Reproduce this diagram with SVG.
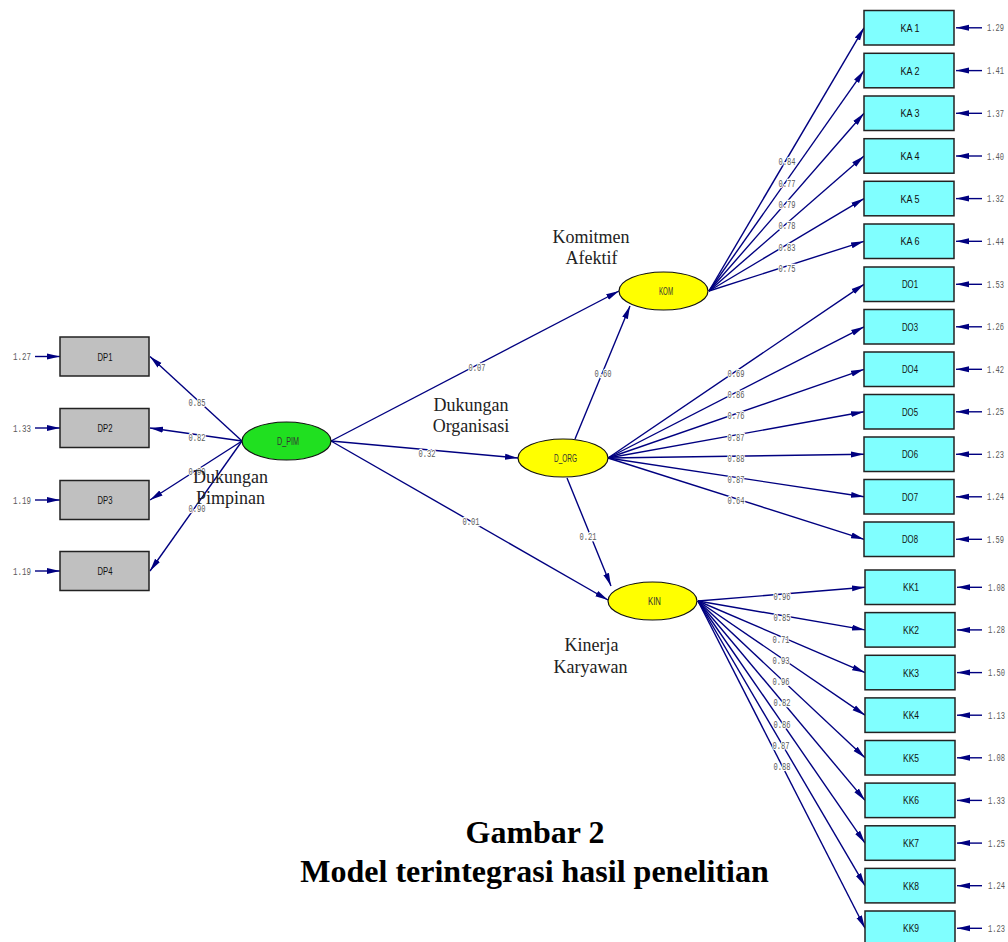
<svg xmlns="http://www.w3.org/2000/svg" width="1008" height="942" viewBox="0 0 1008 942">
<defs>
<marker id="ah" markerUnits="userSpaceOnUse" markerWidth="14" markerHeight="8" refX="13" refY="4" orient="auto"><path d="M0,1 L13,4 L0,7 z" fill="#000080"/></marker>
</defs>
<style>
.c{stroke:#000080;stroke-width:1.4;fill:none;marker-end:url(#ah)}
.n{font-family:"Liberation Mono",monospace;font-size:11px;fill:#5a5a5a;text-anchor:middle;stroke:#fff;stroke-width:2.5;paint-order:stroke}
.e{font-family:"Liberation Mono",monospace;font-size:11px;fill:#5a5a5a}
.r{text-anchor:end}
.bx{fill:#80ffff;stroke:#222;stroke-width:1.5}
.gx{fill:#c0c0c0;stroke:#222;stroke-width:1.5}
.el{stroke:#111;stroke-width:1.2}
.bl{font-family:"Liberation Sans",sans-serif;font-size:11.5px;fill:#111;text-anchor:middle}
.ll{font-family:"Liberation Sans",sans-serif;font-size:10.5px;fill:#333;text-anchor:middle}
.t{font-family:"Liberation Serif",serif;font-size:18px;fill:#222;text-anchor:middle}
.h{font-family:"Liberation Serif",serif;font-size:32px;font-weight:bold;fill:#000;text-anchor:middle}
</style>
<rect width="1008" height="942" fill="#fff"/>

<g id="connectors">
<line class="c" x1="35" y1="356.5" x2="60" y2="356.5"/>
<line class="c" x1="35" y1="428" x2="60" y2="428"/>
<line class="c" x1="35" y1="500" x2="60" y2="500"/>
<line class="c" x1="35" y1="571" x2="60" y2="571"/>
<line class="c" x1="242" y1="441" x2="150" y2="356.5"/>
<line class="c" x1="242" y1="441" x2="150" y2="428"/>
<line class="c" x1="242" y1="441" x2="150" y2="500"/>
<line class="c" x1="242" y1="441" x2="150" y2="571"/>
<line class="c" x1="331" y1="441" x2="619" y2="291"/>
<line class="c" x1="331" y1="441" x2="518" y2="458"/>
<line class="c" x1="331" y1="441" x2="608" y2="600"/>
<line class="c" x1="575" y1="439" x2="630" y2="306"/>
<line class="c" x1="567" y1="478" x2="611" y2="586"/>
<line class="c" x1="709" y1="291" x2="864" y2="27.8"/>
<line class="c" x1="709" y1="291" x2="864" y2="70.6"/>
<line class="c" x1="709" y1="291" x2="864" y2="113.3"/>
<line class="c" x1="709" y1="291" x2="864" y2="156"/>
<line class="c" x1="709" y1="291" x2="864" y2="198.6"/>
<line class="c" x1="709" y1="291" x2="864" y2="241.3"/>
<line class="c" x1="608" y1="458" x2="864" y2="284.3"/>
<line class="c" x1="608" y1="458" x2="864" y2="326.8"/>
<line class="c" x1="608" y1="458" x2="864" y2="369.3"/>
<line class="c" x1="608" y1="458" x2="864" y2="411.8"/>
<line class="c" x1="608" y1="458" x2="864" y2="454.3"/>
<line class="c" x1="608" y1="458" x2="864" y2="496.8"/>
<line class="c" x1="608" y1="458" x2="864" y2="539.3"/>
<line class="c" x1="698" y1="601" x2="865" y2="587.3"/>
<line class="c" x1="698" y1="601" x2="865" y2="629.9"/>
<line class="c" x1="698" y1="601" x2="865" y2="672.6"/>
<line class="c" x1="698" y1="601" x2="865" y2="715.2"/>
<line class="c" x1="698" y1="601" x2="865" y2="757.8"/>
<line class="c" x1="698" y1="601" x2="865" y2="800.4"/>
<line class="c" x1="698" y1="601" x2="865" y2="843.1"/>
<line class="c" x1="698" y1="601" x2="865" y2="885.7"/>
<line class="c" x1="698" y1="601" x2="865" y2="928.3"/>
<line class="c" x1="982" y1="27.8" x2="956" y2="27.8"/>
<line class="c" x1="982" y1="70.6" x2="956" y2="70.6"/>
<line class="c" x1="982" y1="113.3" x2="956" y2="113.3"/>
<line class="c" x1="982" y1="156" x2="956" y2="156"/>
<line class="c" x1="982" y1="198.6" x2="956" y2="198.6"/>
<line class="c" x1="982" y1="241.3" x2="956" y2="241.3"/>
<line class="c" x1="982" y1="284.3" x2="956" y2="284.3"/>
<line class="c" x1="982" y1="326.8" x2="956" y2="326.8"/>
<line class="c" x1="982" y1="369.3" x2="956" y2="369.3"/>
<line class="c" x1="982" y1="411.8" x2="956" y2="411.8"/>
<line class="c" x1="982" y1="454.3" x2="956" y2="454.3"/>
<line class="c" x1="982" y1="496.8" x2="956" y2="496.8"/>
<line class="c" x1="982" y1="539.3" x2="956" y2="539.3"/>
<line class="c" x1="982" y1="587.3" x2="957" y2="587.3"/>
<line class="c" x1="982" y1="629.9" x2="957" y2="629.9"/>
<line class="c" x1="982" y1="672.6" x2="957" y2="672.6"/>
<line class="c" x1="982" y1="715.2" x2="957" y2="715.2"/>
<line class="c" x1="982" y1="757.8" x2="957" y2="757.8"/>
<line class="c" x1="982" y1="800.4" x2="957" y2="800.4"/>
<line class="c" x1="982" y1="843.1" x2="957" y2="843.1"/>
<line class="c" x1="982" y1="885.7" x2="957" y2="885.7"/>
<line class="c" x1="982" y1="928.3" x2="957" y2="928.3"/>
</g>

<g id="DP1"><rect class="gx" x="60" y="337" width="89" height="39"/><text class="bl" x="105" y="360.5" textLength="15" lengthAdjust="spacingAndGlyphs">DP1</text><text class="e" x="13" y="360" textLength="18" lengthAdjust="spacingAndGlyphs">1.27</text></g>
<g id="DP2"><rect class="gx" x="60" y="408.5" width="89" height="39"/><text class="bl" x="105" y="432" textLength="15" lengthAdjust="spacingAndGlyphs">DP2</text><text class="e" x="13" y="431.5" textLength="18" lengthAdjust="spacingAndGlyphs">1.33</text></g>
<g id="DP3"><rect class="gx" x="60" y="480.5" width="89" height="39"/><text class="bl" x="105" y="504" textLength="15" lengthAdjust="spacingAndGlyphs">DP3</text><text class="e" x="13" y="503.5" textLength="18" lengthAdjust="spacingAndGlyphs">1.19</text></g>
<g id="DP4"><rect class="gx" x="60" y="551.5" width="89" height="39"/><text class="bl" x="105" y="575" textLength="15" lengthAdjust="spacingAndGlyphs">DP4</text><text class="e" x="13" y="574.5" textLength="18" lengthAdjust="spacingAndGlyphs">1.19</text></g>

<g id="KA1"><rect class="bx" x="864" y="10.5" width="90" height="34.5"/><text class="bl" x="910" y="31.8" textLength="19" lengthAdjust="spacingAndGlyphs">KA 1</text><text class="e r" x="1004" y="31.3" textLength="17" lengthAdjust="spacingAndGlyphs">1.29</text></g>
<g id="KA2"><rect class="bx" x="864" y="53.3" width="90" height="34.5"/><text class="bl" x="910" y="74.6" textLength="19" lengthAdjust="spacingAndGlyphs">KA 2</text><text class="e r" x="1004" y="74.1" textLength="17" lengthAdjust="spacingAndGlyphs">1.41</text></g>
<g id="KA3"><rect class="bx" x="864" y="96" width="90" height="34.5"/><text class="bl" x="910" y="117.3" textLength="19" lengthAdjust="spacingAndGlyphs">KA 3</text><text class="e r" x="1004" y="116.8" textLength="17" lengthAdjust="spacingAndGlyphs">1.37</text></g>
<g id="KA4"><rect class="bx" x="864" y="138.7" width="90" height="34.5"/><text class="bl" x="910" y="160" textLength="19" lengthAdjust="spacingAndGlyphs">KA 4</text><text class="e r" x="1004" y="159.5" textLength="17" lengthAdjust="spacingAndGlyphs">1.40</text></g>
<g id="KA5"><rect class="bx" x="864" y="181.3" width="90" height="34.5"/><text class="bl" x="910" y="202.6" textLength="19" lengthAdjust="spacingAndGlyphs">KA 5</text><text class="e r" x="1004" y="202.1" textLength="17" lengthAdjust="spacingAndGlyphs">1.32</text></g>
<g id="KA6"><rect class="bx" x="864" y="224" width="90" height="34.5"/><text class="bl" x="910" y="245.3" textLength="19" lengthAdjust="spacingAndGlyphs">KA 6</text><text class="e r" x="1004" y="244.8" textLength="17" lengthAdjust="spacingAndGlyphs">1.44</text></g>
<g id="DO1"><rect class="bx" x="864" y="267" width="90" height="34.5"/><text class="bl" x="910" y="288.3" textLength="16" lengthAdjust="spacingAndGlyphs">DO1</text><text class="e r" x="1004" y="287.8" textLength="17" lengthAdjust="spacingAndGlyphs">1.53</text></g>
<g id="DO3"><rect class="bx" x="864" y="309.5" width="90" height="34.5"/><text class="bl" x="910" y="330.8" textLength="16" lengthAdjust="spacingAndGlyphs">DO3</text><text class="e r" x="1004" y="330.3" textLength="17" lengthAdjust="spacingAndGlyphs">1.26</text></g>
<g id="DO4"><rect class="bx" x="864" y="352" width="90" height="34.5"/><text class="bl" x="910" y="373.3" textLength="16" lengthAdjust="spacingAndGlyphs">DO4</text><text class="e r" x="1004" y="372.8" textLength="17" lengthAdjust="spacingAndGlyphs">1.42</text></g>
<g id="DO5"><rect class="bx" x="864" y="394.5" width="90" height="34.5"/><text class="bl" x="910" y="415.8" textLength="16" lengthAdjust="spacingAndGlyphs">DO5</text><text class="e r" x="1004" y="415.3" textLength="17" lengthAdjust="spacingAndGlyphs">1.25</text></g>
<g id="DO6"><rect class="bx" x="864" y="437" width="90" height="34.5"/><text class="bl" x="910" y="458.3" textLength="16" lengthAdjust="spacingAndGlyphs">DO6</text><text class="e r" x="1004" y="457.8" textLength="17" lengthAdjust="spacingAndGlyphs">1.23</text></g>
<g id="DO7"><rect class="bx" x="864" y="479.5" width="90" height="34.5"/><text class="bl" x="910" y="500.8" textLength="16" lengthAdjust="spacingAndGlyphs">DO7</text><text class="e r" x="1004" y="500.3" textLength="17" lengthAdjust="spacingAndGlyphs">1.24</text></g>
<g id="DO8"><rect class="bx" x="864" y="522" width="90" height="34.5"/><text class="bl" x="910" y="543.3" textLength="16" lengthAdjust="spacingAndGlyphs">DO8</text><text class="e r" x="1004" y="542.8" textLength="17" lengthAdjust="spacingAndGlyphs">1.59</text></g>
<g id="KK1"><rect class="bx" x="865" y="570" width="90" height="34.5"/><text class="bl" x="911" y="591.3" textLength="16" lengthAdjust="spacingAndGlyphs">KK1</text><text class="e r" x="1005" y="590.8" textLength="17" lengthAdjust="spacingAndGlyphs">1.08</text></g>
<g id="KK2"><rect class="bx" x="865" y="612.6" width="90" height="34.5"/><text class="bl" x="911" y="633.9" textLength="16" lengthAdjust="spacingAndGlyphs">KK2</text><text class="e r" x="1005" y="633.4" textLength="17" lengthAdjust="spacingAndGlyphs">1.28</text></g>
<g id="KK3"><rect class="bx" x="865" y="655.3" width="90" height="34.5"/><text class="bl" x="911" y="676.6" textLength="16" lengthAdjust="spacingAndGlyphs">KK3</text><text class="e r" x="1005" y="676.1" textLength="17" lengthAdjust="spacingAndGlyphs">1.50</text></g>
<g id="KK4"><rect class="bx" x="865" y="697.9" width="90" height="34.5"/><text class="bl" x="911" y="719.2" textLength="16" lengthAdjust="spacingAndGlyphs">KK4</text><text class="e r" x="1005" y="718.7" textLength="17" lengthAdjust="spacingAndGlyphs">1.13</text></g>
<g id="KK5"><rect class="bx" x="865" y="740.5" width="90" height="34.5"/><text class="bl" x="911" y="761.8" textLength="16" lengthAdjust="spacingAndGlyphs">KK5</text><text class="e r" x="1005" y="761.3" textLength="17" lengthAdjust="spacingAndGlyphs">1.08</text></g>
<g id="KK6"><rect class="bx" x="865" y="783.1" width="90" height="34.5"/><text class="bl" x="911" y="804.4" textLength="16" lengthAdjust="spacingAndGlyphs">KK6</text><text class="e r" x="1005" y="803.9" textLength="17" lengthAdjust="spacingAndGlyphs">1.33</text></g>
<g id="KK7"><rect class="bx" x="865" y="825.8" width="90" height="34.5"/><text class="bl" x="911" y="847.1" textLength="16" lengthAdjust="spacingAndGlyphs">KK7</text><text class="e r" x="1005" y="846.6" textLength="17" lengthAdjust="spacingAndGlyphs">1.25</text></g>
<g id="KK8"><rect class="bx" x="865" y="868.4" width="90" height="34.5"/><text class="bl" x="911" y="889.7" textLength="16" lengthAdjust="spacingAndGlyphs">KK8</text><text class="e r" x="1005" y="889.2" textLength="17" lengthAdjust="spacingAndGlyphs">1.24</text></g>
<g id="KK9"><rect class="bx" x="865" y="911" width="90" height="34.5"/><text class="bl" x="911" y="932.3" textLength="16" lengthAdjust="spacingAndGlyphs">KK9</text><text class="e r" x="1005" y="931.8" textLength="17" lengthAdjust="spacingAndGlyphs">1.23</text></g>

<g id="D_PIM"><ellipse class="el" cx="286.5" cy="441" rx="44.5" ry="19" fill="#20e020"/><text class="ll" x="288" y="444.5" textLength="22" lengthAdjust="spacingAndGlyphs">D_PIM</text></g>
<g id="KOM"><ellipse class="el" cx="663.5" cy="291" rx="44.5" ry="19" fill="#ffff00"/><text class="ll" x="666" y="294.5" textLength="14" lengthAdjust="spacingAndGlyphs">KOM</text></g>
<g id="D_ORG"><ellipse class="el" cx="563" cy="458" rx="45" ry="19" fill="#ffff00"/><text class="ll" x="565.5" y="461.5" textLength="23" lengthAdjust="spacingAndGlyphs">D_ORG</text></g>
<g id="KIN"><ellipse class="el" cx="652.5" cy="601" rx="44.5" ry="19" fill="#ffff00"/><text class="ll" x="654.5" y="604.5" textLength="13" lengthAdjust="spacingAndGlyphs">KIN</text></g>

<g id="path-labels">
<text class="n" x="197" y="405.5" textLength="17" lengthAdjust="spacingAndGlyphs">0.85</text>
<text class="n" x="197" y="440.5" textLength="17" lengthAdjust="spacingAndGlyphs">0.82</text>
<text class="n" x="197" y="474.5" textLength="17" lengthAdjust="spacingAndGlyphs">0.90</text>
<text class="n" x="197" y="511.5" textLength="17" lengthAdjust="spacingAndGlyphs">0.90</text>
<text class="n" x="477" y="370.5" textLength="17" lengthAdjust="spacingAndGlyphs">0.07</text>
<text class="n" x="427" y="456.5" textLength="17" lengthAdjust="spacingAndGlyphs">0.32</text>
<text class="n" x="471" y="524.5" textLength="17" lengthAdjust="spacingAndGlyphs">0.01</text>
<text class="n" x="603" y="376.5" textLength="17" lengthAdjust="spacingAndGlyphs">0.60</text>
<text class="n" x="588" y="539.5" textLength="17" lengthAdjust="spacingAndGlyphs">0.21</text>
<text class="n" x="787" y="165" textLength="17" lengthAdjust="spacingAndGlyphs">0.84</text>
<text class="n" x="787" y="186.5" textLength="17" lengthAdjust="spacingAndGlyphs">0.77</text>
<text class="n" x="787" y="207.8" textLength="17" lengthAdjust="spacingAndGlyphs">0.79</text>
<text class="n" x="787" y="229.2" textLength="17" lengthAdjust="spacingAndGlyphs">0.78</text>
<text class="n" x="787" y="250.5" textLength="17" lengthAdjust="spacingAndGlyphs">0.83</text>
<text class="n" x="787" y="271.8" textLength="17" lengthAdjust="spacingAndGlyphs">0.75</text>
<text class="n" x="736" y="376.8" textLength="17" lengthAdjust="spacingAndGlyphs">0.69</text>
<text class="n" x="736" y="398" textLength="17" lengthAdjust="spacingAndGlyphs">0.86</text>
<text class="n" x="736" y="419.3" textLength="17" lengthAdjust="spacingAndGlyphs">0.76</text>
<text class="n" x="736" y="440.5" textLength="17" lengthAdjust="spacingAndGlyphs">0.87</text>
<text class="n" x="736" y="461.8" textLength="17" lengthAdjust="spacingAndGlyphs">0.88</text>
<text class="n" x="736" y="483" textLength="17" lengthAdjust="spacingAndGlyphs">0.87</text>
<text class="n" x="736" y="504.3" textLength="17" lengthAdjust="spacingAndGlyphs">0.64</text>
<text class="n" x="782" y="599.8" textLength="17" lengthAdjust="spacingAndGlyphs">0.96</text>
<text class="n" x="782" y="621.1" textLength="17" lengthAdjust="spacingAndGlyphs">0.85</text>
<text class="n" x="781" y="642.5" textLength="17" lengthAdjust="spacingAndGlyphs">0.71</text>
<text class="n" x="781" y="663.7" textLength="17" lengthAdjust="spacingAndGlyphs">0.93</text>
<text class="n" x="781" y="685.1" textLength="17" lengthAdjust="spacingAndGlyphs">0.96</text>
<text class="n" x="782" y="706.4" textLength="17" lengthAdjust="spacingAndGlyphs">0.82</text>
<text class="n" x="782" y="727.7" textLength="17" lengthAdjust="spacingAndGlyphs">0.86</text>
<text class="n" x="781" y="749" textLength="17" lengthAdjust="spacingAndGlyphs">0.87</text>
<text class="n" x="782" y="770.3" textLength="17" lengthAdjust="spacingAndGlyphs">0.88</text>
</g>

<g id="construct-names">
<text class="t" x="230.5" y="483">Dukungan</text>
<text class="t" x="230.5" y="503.5">Pimpinan</text>
<text class="t" x="471" y="411">Dukungan</text>
<text class="t" x="471" y="432">Organisasi</text>
<text class="t" x="591" y="243">Komitmen</text>
<text class="t" x="591.5" y="264">Afektif</text>
<text class="t" x="591.5" y="651">Kinerja</text>
<text class="t" x="590.5" y="673">Karyawan</text>
</g>

<g id="title">
<text class="h" x="535" y="843">Gambar 2</text>
<text class="h" x="534.5" y="882">Model terintegrasi hasil penelitian</text>
</g>
</svg>
